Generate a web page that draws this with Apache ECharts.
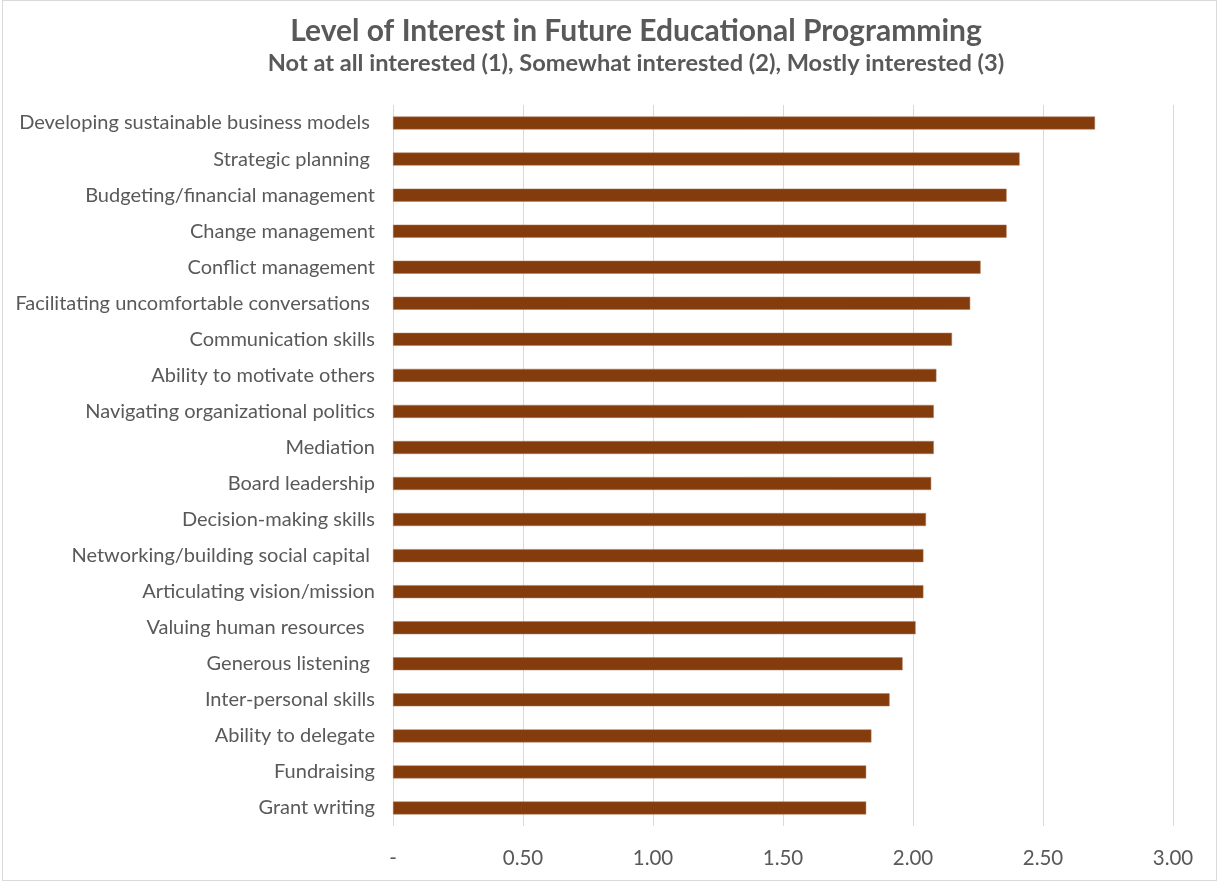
<!DOCTYPE html>
<html>
<head>
<meta charset="utf-8">
<script src="https://cdn.jsdelivr.net/npm/echarts@6/dist/echarts.min.js"></script>
<style>
  html, body { margin: 0; padding: 0; background: #ffffff; }
  #frame { position: absolute; left: 2px; top: 0; width: 1215px; height: 881px; border: 1px solid #d9d9d9; box-sizing: border-box; }
  #chart { position: absolute; left: 0; top: 0; width: 1220px; height: 883px; }
</style>
</head>
<body>
<div id="frame"></div>
<div id="chart"></div>
<script>
// Programming topics, listed top to bottom
const topics = [
  'Developing sustainable business models ',
  'Strategic planning ',
  'Budgeting/financial management',
  'Change management',
  'Conflict management',
  'Facilitating uncomfortable conversations ',
  'Communication skills',
  'Ability to motivate others',
  'Navigating organizational politics',
  'Mediation',
  'Board leadership',
  'Decision-making skills',
  'Networking/building social capital ',
  'Articulating vision/mission',
  'Valuing human resources  ',
  'Generous listening ',
  'Inter-personal skills',
  'Ability to delegate',
  'Fundraising',
  'Grant writing'
];

// Mean interest score per topic (1 = not at all, 3 = mostly)
const interestScores = [
  2.70, 2.41, 2.36, 2.36, 2.26, 2.22, 2.15, 2.09, 2.08, 2.08,
  2.07, 2.05, 2.04, 2.04, 2.01, 1.96, 1.91, 1.84, 1.82, 1.82
];

const scaleMin = 0;
const scaleMax = 3;
const scaleStep = 0.5;

const chart = echarts.init(document.getElementById('chart'), null, { renderer: 'canvas' });
const font = 'Lato, "Open Sans", sans-serif';

chart.setOption({
  backgroundColor: 'transparent',
  animation: false,
  title: {
    text: 'Level of Interest in Future Educational Programming',
    subtext: 'Not at all interested (1), Somewhat interested (2), Mostly interested (3)',
    left: 631,
    textAlign: 'center',
    top: 11,
    itemGap: 5,
    textStyle: { fontFamily: font, fontSize: 30, fontWeight: 'bold', color: '#595959' },
    subtextStyle: { fontFamily: font, fontSize: 23.6, fontWeight: 'bold', color: '#595959' }
  },
  grid: { left: 393, right: 47, top: 105, bottom: 57, containLabel: false },
  xAxis: {
    type: 'value',
    min: scaleMin,
    max: scaleMax,
    interval: scaleStep,
    axisLine: { show: false },
    axisTick: { show: false },
    splitLine: { show: true, lineStyle: { color: '#d9d9d9', width: 1 } },
    axisLabel: {
      margin: 22,
      fontFamily: font,
      fontSize: 20.5,
      color: '#595959',
      formatter: v => (v === 0 ? '-' : v.toFixed(2))
    }
  },
  yAxis: {
    type: 'category',
    data: topics,
    inverse: true,
    axisLine: { show: false },
    axisTick: { show: false },
    splitLine: { show: false },
    axisLabel: { margin: 18, fontFamily: font, fontSize: 20, color: '#595959' }
  },
  series: [{
    type: 'bar',
    data: interestScores,
    barWidth: 13,
    itemStyle: { color: '#843c0c', borderColor: '#b07a58', borderWidth: 0.5 }
  }]
});
</script>
</body>
</html>
